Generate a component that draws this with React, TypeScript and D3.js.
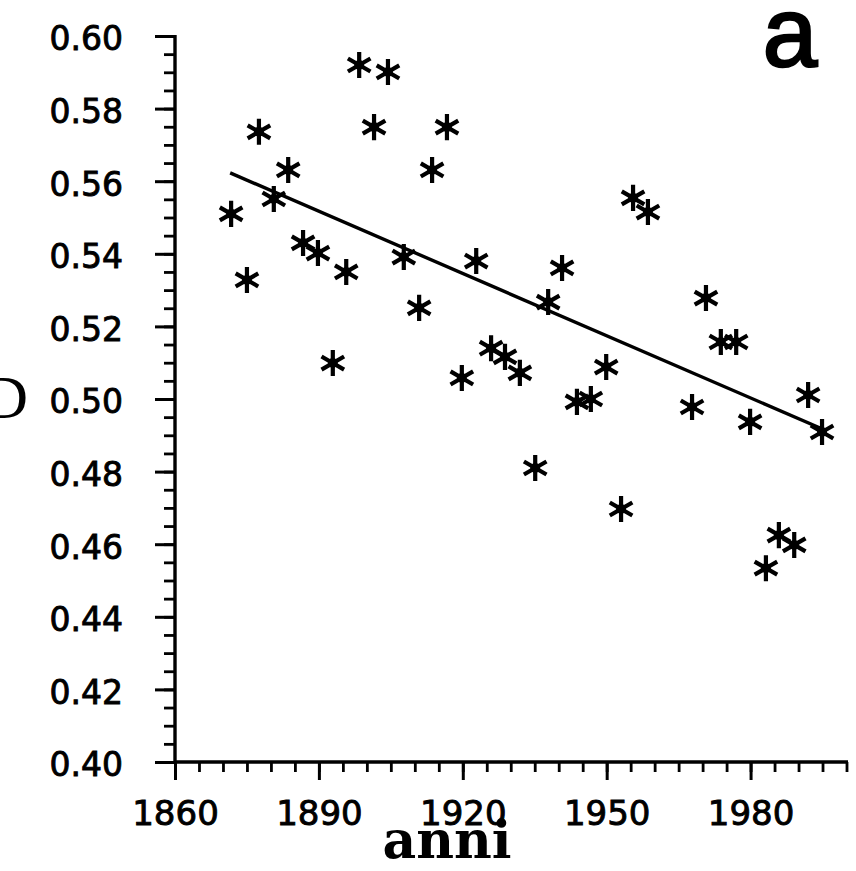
import React, { useEffect, useRef } from 'react';
import * as d3 from 'd3';

// Data
const years = [
  1871.7, 1875.0, 1877.5, 1880.6, 1883.6, 1886.7, 1889.8, 1892.9, 1895.7, 1898.4,
  1901.5, 1904.4, 1907.7, 1910.9, 1913.6, 1916.7, 1919.8, 1922.8, 1925.9, 1928.8,
  1931.9, 1935.1, 1937.8, 1940.7, 1943.8, 1946.7, 1949.9, 1953.0, 1955.5, 1958.6,
  1967.8, 1970.7, 1973.8, 1977.0, 1979.9, 1983.2, 1985.9, 1989.1, 1992.0, 1994.9,
];
const dValues = [
  0.551, 0.5328, 0.5736, 0.5551, 0.5631, 0.543, 0.5402, 0.5099, 0.535, 0.592,
  0.5749, 0.5901, 0.5391, 0.5251, 0.5631, 0.5749, 0.5058, 0.538, 0.514, 0.5116,
  0.5072, 0.481, 0.5267, 0.5361, 0.4992, 0.5, 0.5088, 0.4697, 0.5554, 0.5515,
  0.4978, 0.5278, 0.5157, 0.5157, 0.4937, 0.4534, 0.4625, 0.4598, 0.5011, 0.4909,
];
const trendYears = [1871.5, 1994.5];
const trendValues = [0.5623, 0.492];

const xMajorTicks = [1860, 1890, 1920, 1950, 1980];
const xTickLabels = ['1860', '1890', '1920', '1950', '1980'];
const yMajorTicks = [0.4, 0.42, 0.44, 0.46, 0.48, 0.5, 0.52, 0.54, 0.56, 0.58, 0.6];
const yTickLabels = ['0.40', '0.42', '0.44', '0.46', '0.48', '0.50', '0.52', '0.54', '0.56', '0.58', '0.60'];

const xLabel = 'anni';
const yLabel = 'D';
const panelLabel = 'a';

const W = 856;
const H = 871;

export default function App() {
  const ref = useRef<SVGSVGElement | null>(null);

  useEffect(() => {
    const svg = d3.select(ref.current);
    svg.selectAll('*').remove();

    const x = d3.scaleLinear().domain([1860, 2000]).range([175, 846.5]);
    const y = d3.scaleLinear().domain([0.4, 0.6]).range([762, 36]);

    const tickFont = 'DejaVu Sans, sans-serif';

    // minor y ticks
    const gyMinor = svg.append('g').attr('transform', `translate(${x(1860)},0)`);
    gyMinor.call(d3.axisLeft(y).ticks(40).tickSize(11).tickFormat(() => ''));
    gyMinor.select('.domain').remove();
    gyMinor.selectAll('line').attr('stroke', '#000').attr('stroke-width', 2.8);

    // major y ticks
    const gy = svg.append('g').attr('transform', `translate(${x(1860)},0)`);
    gy.call(
      d3.axisLeft(y)
        .tickValues(yMajorTicks)
        .tickSize(20)
        .tickPadding(32)
        .tickFormat((_d, i) => yTickLabels[i])
    );
    gy.select('.domain').remove();
    gy.selectAll('line').attr('stroke', '#000').attr('stroke-width', 3);
    gy.selectAll('text')
      .attr('font-family', tickFont)
      .attr('font-size', 33)
      .attr('fill', '#000')
      .attr('stroke', '#000')
      .attr('stroke-width', 0.9)
      .attr('dy', '0.42em');

    // minor x ticks
    const gxMinor = svg.append('g').attr('transform', `translate(0,${y(0.4)})`);
    gxMinor.call(d3.axisBottom(x).ticks(28).tickSize(10).tickFormat(() => ''));
    gxMinor.select('.domain').remove();
    gxMinor.selectAll('line').attr('stroke', '#000').attr('stroke-width', 2.8);

    // major x ticks
    const gx = svg.append('g').attr('transform', `translate(0,${y(0.4)})`);
    gx.call(
      d3.axisBottom(x)
        .tickValues(xMajorTicks)
        .tickSize(18)
        .tickPadding(21)
        .tickFormat((_d, i) => xTickLabels[i])
    );
    gx.select('.domain').remove();
    gx.selectAll('line').attr('stroke', '#000').attr('stroke-width', 3);
    gx.selectAll('text')
      .attr('font-family', tickFont)
      .attr('font-size', 34)
      .attr('fill', '#000')
      .attr('stroke', '#000')
      .attr('stroke-width', 0.9)
      .attr('dy', '0.71em');

    // axis lines
    svg.append('line')
      .attr('x1', x(1860)).attr('x2', x(1860))
      .attr('y1', y(0.6) - 1).attr('y2', y(0.4) + 1.5)
      .attr('stroke', '#000').attr('stroke-width', 3.4);
    svg.append('line')
      .attr('x1', x(1860)).attr('x2', x(2000) + 1.5)
      .attr('y1', y(0.4)).attr('y2', y(0.4))
      .attr('stroke', '#000').attr('stroke-width', 3.4);

    // trend line
    const trend = trendYears.map((yr, i) => [yr, trendValues[i]] as [number, number]);
    svg.append('path')
      .attr('d', d3.line<[number, number]>().x((d) => x(d[0])).y((d) => y(d[1]))(trend) || '')
      .attr('fill', 'none')
      .attr('stroke', '#000')
      .attr('stroke-width', 3.4);

    // points
    const sym = d3.symbol().type(d3.symbolAsterisk).size(480);
    const pts = years.map((yr, i) => [yr, dValues[i]] as [number, number]);
    const gp = svg.append('g');
    gp.selectAll('path.star')
      .data(pts)
      .join('path')
      .attr('class', 'star')
      .attr('transform', (d) => `translate(${x(d[0])},${y(d[1])})`)
      .attr('d', sym() || '')
      .attr('fill', 'none')
      .attr('stroke', '#000')
      .attr('stroke-width', 4.2);
    gp.selectAll('circle.core')
      .data(pts)
      .join('circle')
      .attr('class', 'core')
      .attr('cx', (d) => x(d[0]))
      .attr('cy', (d) => y(d[1]))
      .attr('r', 5)
      .attr('fill', '#000');

    // labels
    svg.append('text')
      .attr('x', 447).attr('y', 858)
      .attr('text-anchor', 'middle')
      .attr('font-family', 'DejaVu Serif, serif')
      .attr('font-weight', 'bold')
      .attr('font-size', 52)
      .attr('fill', '#000')
      .text(xLabel);

    svg.append('text')
      .attr('x', 28).attr('y', 418)
      .attr('text-anchor', 'end')
      .attr('font-family', 'Liberation Serif, serif')
      .attr('font-size', 62)
      .attr('fill', '#000')
      .text(yLabel);

    svg.append('text')
      .attr('x', 790).attr('y', 66)
      .attr('text-anchor', 'middle')
      .attr('font-family', 'Liberation Sans, Arial, sans-serif')
      .attr('font-size', 98)
      .attr('fill', '#000')
      .attr('stroke', '#000')
      .attr('stroke-width', 2.5)
      .text(panelLabel);
  }, []);

  return (
    <svg
      ref={ref}
      width={W}
      height={H}
      viewBox={`0 0 ${W} ${H}`}
      style={{ position: 'absolute', left: 0, top: 0, background: '#fff' }}
    />
  );
}
